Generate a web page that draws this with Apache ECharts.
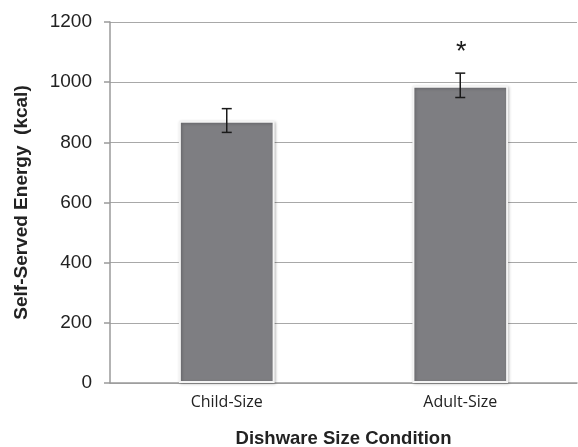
<!DOCTYPE html>
<html><head><meta charset="utf-8">
<script src="https://cdn.jsdelivr.net/npm/echarts@6/dist/echarts.min.js"></script>
<style>html,body{margin:0;padding:0;background:#fff}#c{width:578px;height:447px}</style>
</head><body><div id="c"></div>
<script>
const categories = ['Child-Size', 'Adult-Size'];
const means = [872, 988];
const errLow = [833, 949];
const errHigh = [912, 1030];
const marks = ['', '*'];
const markValue = [0, 1100];

const chart = echarts.init(document.getElementById('c'));
chart.setOption({
  animation: false,
  grid: { left: 110, right: 1, top: 22, bottom: 64, containLabel: false, outerBoundsMode: 'none' },
  xAxis: {
    type: 'category', data: categories,
    axisLine: { lineStyle: { color: '#9a9a9a', width: 1.5 } },
    axisTick: { show: false },
    axisLabel: { fontFamily: 'Open Sans', fontSize: 16, color: '#222', margin: 11 },
    name: 'Dishware Size Condition', nameLocation: 'middle', nameGap: 46,
    nameTextStyle: { fontFamily: 'Liberation Sans, Arial', fontWeight: 'bold', fontSize: 18.5, color: '#222' }
  },
  yAxis: {
    type: 'value', min: 0, max: 1200, interval: 200,
    axisLine: { show: true, lineStyle: { color: '#9a9a9a', width: 1.5 } },
    axisTick: { show: true, length: 6, lineStyle: { color: '#9a9a9a', width: 1.5 } },
    splitLine: { lineStyle: { color: '#a8a8a8', width: 1.2 } },
    axisLabel: { fontFamily: 'Liberation Sans, Arial', fontSize: 19, color: '#222', margin: 18,
      formatter: function (v) { return String(v); } },
    name: 'Self-Served Energy  (kcal)', nameLocation: 'middle', nameGap: 79,
    nameTextStyle: { fontFamily: 'Liberation Sans, Arial', fontWeight: 'bold', fontSize: 19, color: '#222' }
  },
  series: [
    {
      type: 'bar', data: means, barWidth: '41%',
      itemStyle: { color: '#7e7e82', borderColor: '#f4f4f4', borderWidth: 2,
        shadowColor: 'rgba(0,0,0,0.25)', shadowBlur: 3, shadowOffsetX: 1, shadowOffsetY: 1 },
      z: 2
    },
    {
      type: 'custom', z: 5,
      data: categories.map((c, i) => [i, errLow[i], errHigh[i], markValue[i]]),
      renderItem: function (params, api) {
        const x = api.value(0);
        const lo = api.coord([x, api.value(1)]);
        const hi = api.coord([x, api.value(2)]);
        const hw = 5;
        const st = { stroke: '#1a1a1a', lineWidth: 1.5 };
        const children = [
          { type: 'line', shape: { x1: lo[0], y1: lo[1], x2: hi[0], y2: hi[1] }, style: st },
          { type: 'line', shape: { x1: lo[0] - hw, y1: lo[1], x2: lo[0] + hw, y2: lo[1] }, style: st },
          { type: 'line', shape: { x1: hi[0] - hw, y1: hi[1], x2: hi[0] + hw, y2: hi[1] }, style: st }
        ];
        const m = marks[params.dataIndex];
        if (m) {
          const p = api.coord([x, api.value(3)]);
          children.push({ type: 'text', style: { text: m, x: p[0] + 1, y: p[1], align: 'center', verticalAlign: 'middle',
            font: '27px "Liberation Sans", Arial', fill: '#1a1a1a' } });
        }
        return { type: 'group', children: children };
      }
    }
  ]
});
</script></body></html>
